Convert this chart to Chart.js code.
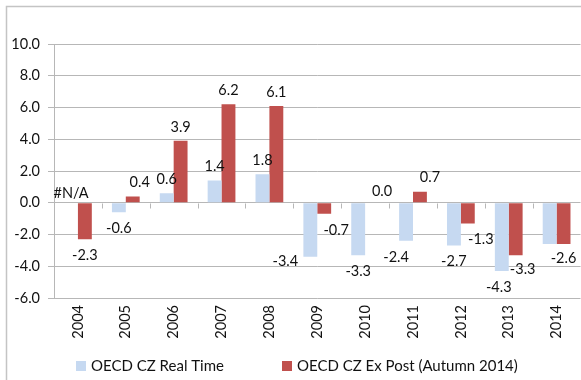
<!DOCTYPE html>
<html>
<head>
<meta charset="utf-8">
<script src="https://cdn.jsdelivr.net/npm/chart.js@4.4.1/dist/chart.umd.min.js"></script>
<style>
  html, body { margin: 0; padding: 0; background: #fff; }
  #wrap { position: relative; width: 581px; height: 380px; }
</style>
</head>
<body>
<div id="wrap"><canvas id="c" width="581" height="380"></canvas></div>
<script>
// Czech output gap estimates, % of potential GDP
const years = ['2004', '2005', '2006', '2007', '2008', '2009', '2010', '2011', '2012', '2013', '2014'];
const realTime = [null, -0.6, 0.6, 1.4, 1.8, -3.4, -3.3, -2.4, -2.7, -4.3, -2.6];
const exPost = [-2.3, 0.4, 3.9, 6.2, 6.1, -0.7, 0.0, 0.7, -1.3, -3.3, -2.6];
const seriesNames = ['OECD CZ Real Time', 'OECD CZ Ex Post (Autumn 2014)'];
const yMin = -6, yMax = 10, yStep = 2;

const FONT = 'Lato, "Open Sans", sans-serif';
const FONT_SIZE = 14.5;
const LEGEND_SIZE = 15;
const BLUE = '#C6D9F1';
const RED = '#C0504D';
const GRID = '#B7B7B7';

// small pixel nudges for value labels that would otherwise collide ("dataset:index")
const labelNudge = {
  '1:1': [7, 0],
  '0:5': [-25, -11],
  '1:5': [12, 0],
  '1:6': [10, 3],
  '0:7': [-10, 0],
  '1:7': [10, 0],
  '1:8': [13, 0],
  '0:9': [-3, 0],
  '1:9': [7, -2],
  '1:10': [0, -2]
};
// labels sharing the spot of an identical neighbouring label are drawn once
const labelShared = { '0:10': true };

const frame = {
  id: 'frame',
  beforeDraw(chart) {
    const ctx = chart.ctx;
    ctx.save();
    ctx.strokeStyle = '#C4C4C4';
    ctx.lineWidth = 1.5;
    ctx.strokeRect(6.5, 6.5, 700, 500);
    ctx.restore();
  }
};

const axisTicks = {
  id: 'axisTicks',
  afterDraw(chart) {
    const ctx = chart.ctx;
    const x = chart.scales.x, y = chart.scales.y;
    const y0 = Math.round(y.getPixelForValue(0)) + 0.5;
    const step = x.getPixelForValue(1) - x.getPixelForValue(0);
    ctx.save();
    ctx.strokeStyle = GRID;
    ctx.lineWidth = 1;
    ctx.beginPath();
    for (let i = 0; i <= years.length; i++) {
      const px = Math.round(x.getPixelForValue(0) - step / 2 + i * step) + 0.5;
      ctx.moveTo(px, y0);
      ctx.lineTo(px, y0 + 5);
    }
    ctx.stroke();
    ctx.restore();
  }
};

const valueLabels = {
  id: 'valueLabels',
  afterDatasetsDraw(chart) {
    const ctx = chart.ctx;
    const zeroY = chart.scales.y.getPixelForValue(0);
    ctx.save();
    ctx.font = FONT_SIZE + 'px ' + FONT;
    ctx.fillStyle = '#111';
    ctx.textAlign = 'center';
    ctx.textBaseline = 'middle';
    chart.data.datasets.forEach((ds, di) => {
      const meta = chart.getDatasetMeta(di);
      meta.data.forEach((bar, i) => {
        const key = di + ':' + i;
        if (labelShared[key]) return;
        const v = ds.data[i];
        let text, px = bar.x, py;
        if (v === null || v === undefined) {
          text = '#N/A';
          py = zeroY - 9;
        } else {
          text = v.toFixed(1);
          py = v >= 0 ? bar.y - 14 : bar.y + 16;
        }
        const n = labelNudge[key];
        if (n) { px += n[0]; py += n[1]; }
        ctx.fillText(text, px, py);
      });
    });
    ctx.restore();
  }
};

const legendBox = {
  id: 'legendBox',
  afterDraw(chart) {
    const ctx = chart.ctx;
    const starts = [76, 282];
    const cy = 366;
    ctx.save();
    ctx.font = LEGEND_SIZE + 'px ' + FONT;
    ctx.textBaseline = 'middle';
    ctx.textAlign = 'left';
    chart.data.datasets.forEach((ds, di) => {
      ctx.fillStyle = ds.backgroundColor;
      ctx.fillRect(starts[di], cy - 5, 10, 10);
      ctx.fillStyle = '#111';
      ctx.fillText(ds.label, starts[di] + 15, cy);
    });
    ctx.restore();
  }
};

new Chart(document.getElementById('c'), {
  type: 'bar',
  data: {
    labels: years,
    datasets: [
      { label: seriesNames[0], data: realTime, backgroundColor: BLUE },
      { label: seriesNames[1], data: exPost, backgroundColor: RED }
    ]
  },
  options: {
    responsive: false,
    animation: false,
    devicePixelRatio: 1,
    layout: { padding: { top: 44, left: 0, right: 0, bottom: 0 } },
    datasets: { bar: { categoryPercentage: 0.58, barPercentage: 1.0 } },
    plugins: { legend: { display: false }, tooltip: { enabled: false } },
    scales: {
      x: {
        grid: { display: false, drawTicks: false },
        border: { display: false },
        ticks: {
          minRotation: 90, maxRotation: 90, padding: 7,
          color: '#111', font: { family: FONT, size: FONT_SIZE }
        },
        afterFit(s) { s.height = 82; }
      },
      y: {
        min: yMin, max: yMax,
        grid: { color: GRID, tickLength: 6, lineWidth: 1 },
        border: { display: true, color: GRID },
        ticks: {
          stepSize: yStep, padding: 8, color: '#111',
          font: { family: FONT, size: FONT_SIZE },
          callback: v => v.toFixed(1)
        },
        afterFit(s) { s.width = 54; }
      }
    }
  },
  plugins: [frame, axisTicks, valueLabels, legendBox]
});
</script>
</body>
</html>
